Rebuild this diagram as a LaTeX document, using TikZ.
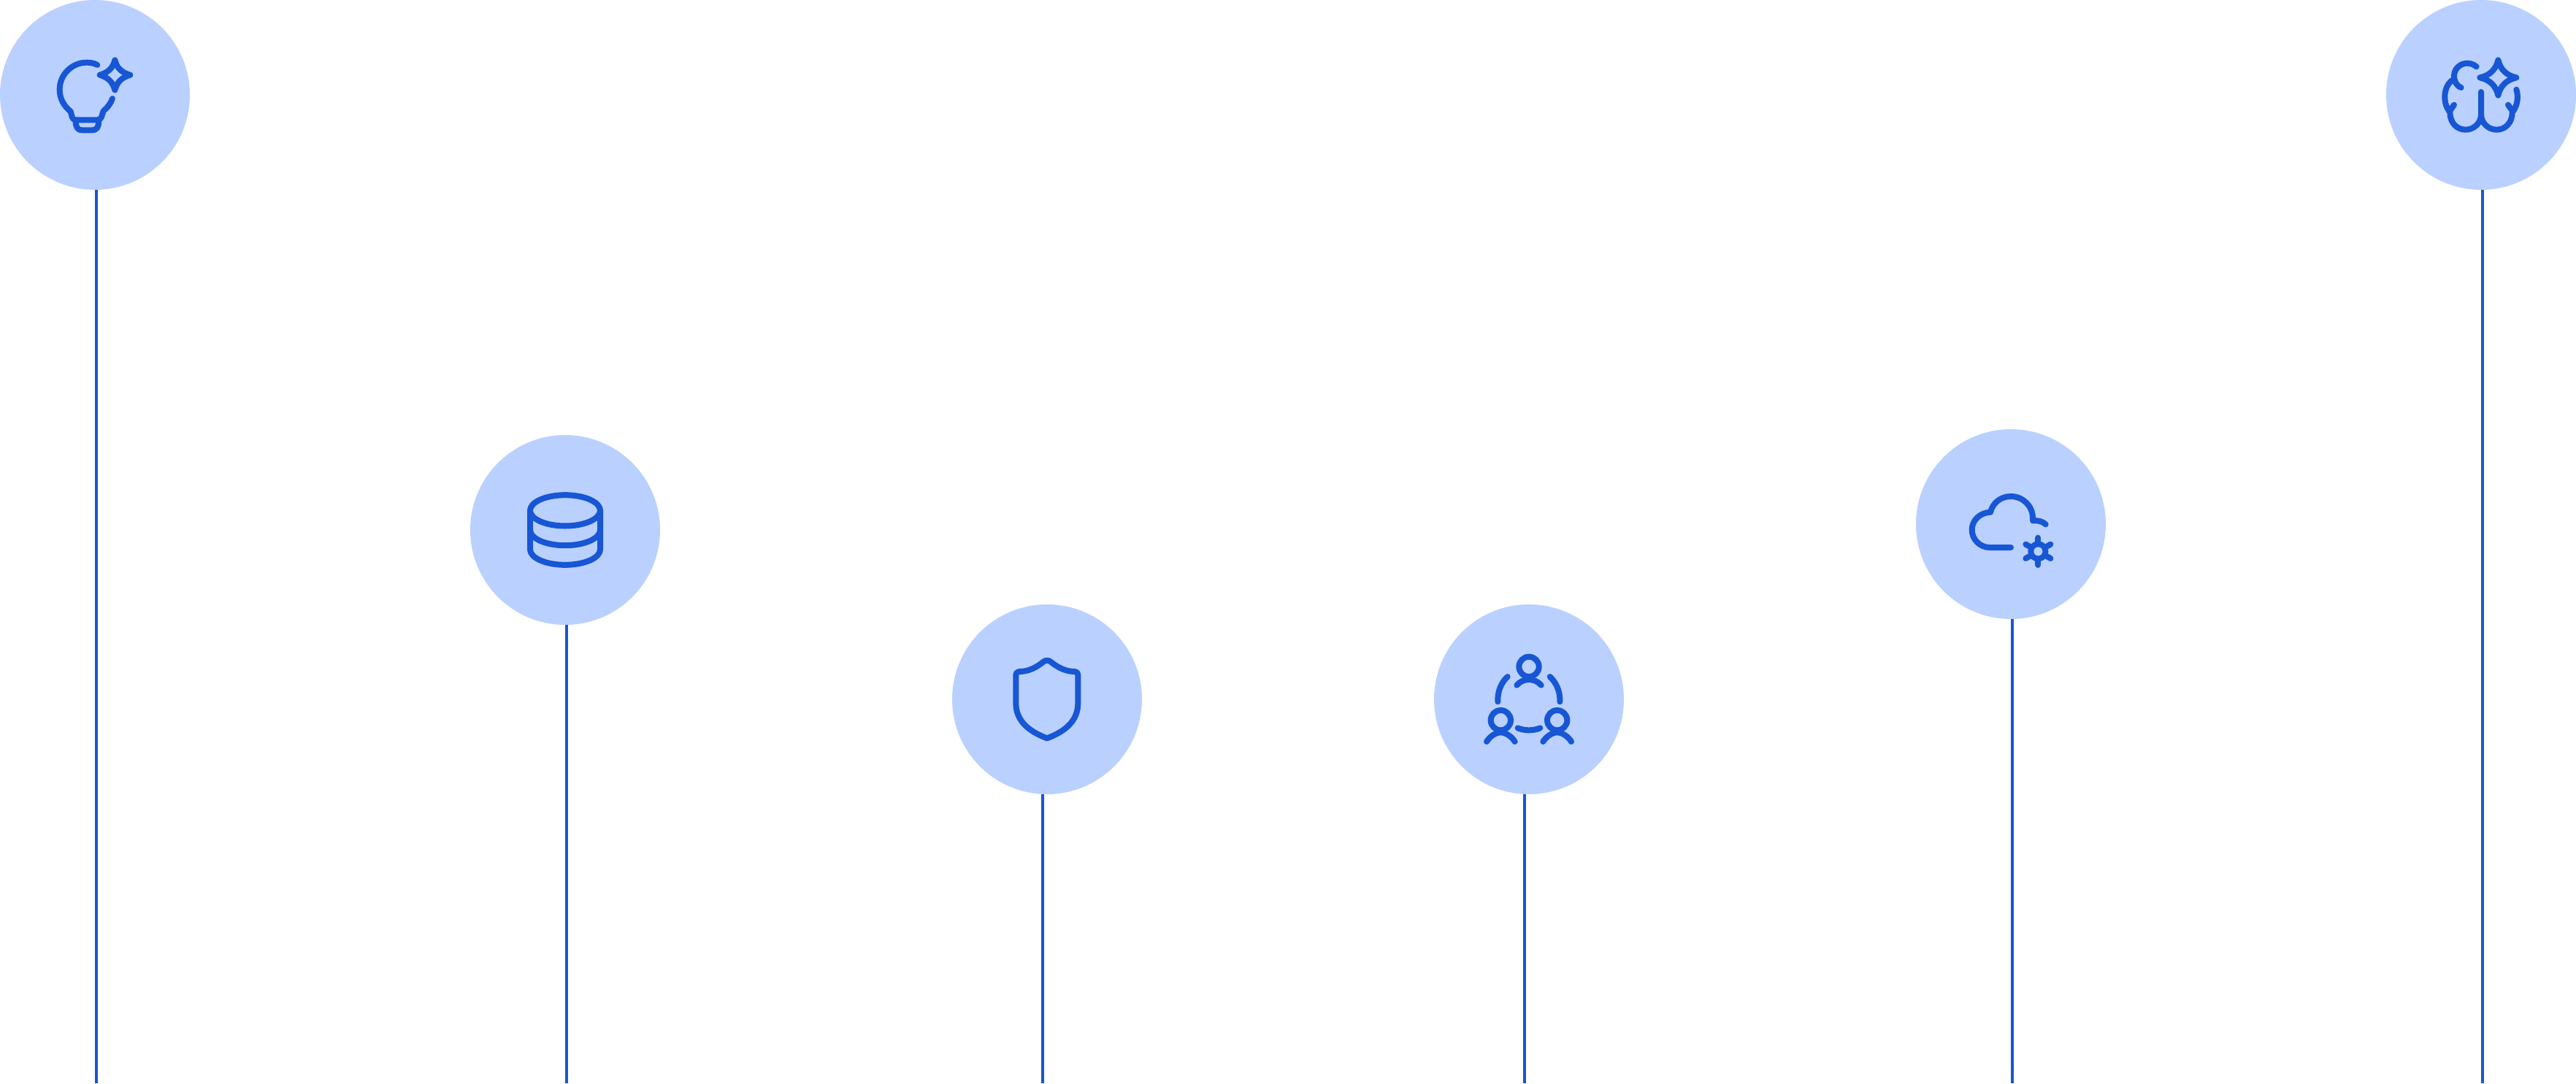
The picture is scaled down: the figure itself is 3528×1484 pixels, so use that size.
\documentclass[tikz,border=0pt]{standalone}
\definecolor{disc}{HTML}{BAD1FF}
\definecolor{ink}{HTML}{1756D4}
\tikzset{
  hub/.style={circle,fill=disc,draw=none,inner sep=0pt,outer sep=0pt,minimum size=260pt},
  stem/.style={draw=ink,line width=4pt},
  glyph/.style={draw=ink,line width=8pt,line cap=round,line join=round,fill=none},
  zoomframe/.style={shift={(#1)},x=0.33333pt,y=-0.33333pt}
}
\begin{document}
\begin{tikzpicture}[x=1pt,y=-1pt]
\useasboundingbox (0,0) rectangle (3528,1484);
% connectors first
\node[hub] (h1) at (130,130) {};
\node[hub] (h2) at (774,726) {};
\node[hub] (h3) at (1434,958) {};
\node[hub] (h4) at (2094,958) {};
\node[hub] (h5) at (2754,718) {};
\node[hub] (h6) at (3398,130) {};
\coordinate (e1) at (132,1484);
\coordinate (e2) at (776,1484);
\coordinate (e3) at (1428,1484);
\coordinate (e4) at (2088,1484);
\coordinate (e5) at (2756,1484);
\coordinate (e6) at (3400,1484);
\foreach \i in {1,...,6} \draw[stem] (h\i.south -| e\i) -- (e\i);
% bulb
\begin{scope}[zoomframe={0,0}]
\draw[glyph] (400,267) .. controls (386,259) and (370,257) .. (356,257)
  .. controls (295,257) and (245,307) .. (245,368)
  .. controls (245,405) and (262,435) .. (290,458)
  .. controls (295,470) and (293,493) .. (312,493) -- (400,493)
  .. controls (420,493) and (418,470) .. (425,456)
  .. controls (442,442) and (455,425) .. (462,405);
\draw[glyph] (311,495) .. controls (311,522) and (316,535) .. (340,535)
  -- (376,535) .. controls (400,535) and (405,522) .. (406,495);
\draw[glyph] (472,247) .. controls (480,280) and (500,298) .. (535,308)
  .. controls (500,318) and (480,338) .. (472,370)
  .. controls (464,338) and (444,318) .. (410,308)
  .. controls (444,298) and (464,280) .. (472,247) -- cycle;
\end{scope}
% database
\begin{scope}[zoomframe={640,595}]
\draw[glyph] (402,313) ellipse [x radius=144,y radius=63.5];
\draw[glyph] (258,393) .. controls (258,428) and (322,456.5) .. (402,456.5) .. controls (482,456.5) and (546,428) .. (546,393);
\draw[glyph] (258,313) -- (258,473) .. controls (258,508) and (322,536.5) .. (402,536.5) .. controls (482,536.5) and (546,508) .. (546,473) -- (546,313);
\end{scope}
% shield
\begin{scope}[zoomframe={1290,870}]
\draw[glyph] (418,109) .. controls (425,103) and (439,103) .. (446,109)
  .. controls (478,135) and (510,150) .. (546,150)
  .. controls (554,150) and (559,156) .. (559,163) -- (559,280)
  .. controls (559,350) and (510,395) .. (432,424)
  .. controls (354,395) and (304,350) .. (304,280) -- (304,163)
  .. controls (304,156) and (310,150) .. (318,150)
  .. controls (354,150) and (386,135) .. (418,109) -- cycle;
\end{scope}
% team
\begin{scope}[zoomframe={1950,870}]
\draw[glyph] (432,130) circle [radius=41];
\draw[glyph] (316,350) circle [radius=41];
\draw[glyph] (548,350) circle [radius=41];
\draw[glyph] (382,206) .. controls (395,190) and (415,183) .. (432,183) .. controls (449,183) and (469,190) .. (482,206);
\draw[glyph] (258,438) .. controls (270,418) and (295,400) .. (316,400) .. controls (337,400) and (362,418) .. (374,438);
\draw[glyph] (490,438) .. controls (502,418) and (527,400) .. (548,400) .. controls (569,400) and (594,418) .. (606,438);
\draw[glyph] (344,171) .. controls (318,195) and (302,232) .. (304,274);
\draw[glyph] (518,171) .. controls (544,195) and (561,232) .. (559,274);
\draw[glyph] (386,382) .. controls (415,394) and (449,394) .. (478,382);
\end{scope}
% cloud + gear
\begin{scope}[zoomframe={2610,585}]
\draw[glyph] (432,495) -- (345,495) .. controls (305,495) and (272,462) .. (272,422)
  .. controls (272,385) and (303,352) .. (348,350)
  .. controls (358,310) and (392,285) .. (432,285)
  .. controls (482,285) and (522,325) .. (522,375) -- (522,385)
  .. controls (545,383) and (562,388) .. (575,400);
\draw[glyph] (544,511) circle [radius=30];
\foreach \a/\b in {544/455,544/567,595/482,595/540,493/482,493/540}
  \draw[glyph] (\a,\b) -- (544,511);
\fill[disc] (544,511) circle [radius=18];
\end{scope}
% brain + sparkle
\begin{scope}[zoomframe={3250,0}]
\draw[glyph] (425,274) .. controls (412,264) and (400,260) .. (388,260)
  .. controls (355,260) and (333,285) .. (333,312) .. controls (333,335) and (345,355) .. (362,360);
\draw[glyph] (325,330) .. controls (305,345) and (295,370) .. (295,398)
  .. controls (295,425) and (303,445) .. (316,462)
  .. controls (316,505) and (345,533) .. (380,533)
  .. controls (415,533) and (444,505) .. (444,470) -- (444,378);
\draw[glyph] (444,470) .. controls (444,505) and (473,533) .. (508,533)
  .. controls (543,533) and (572,505) .. (572,462)
  .. controls (590,440) and (600,405) .. (589,368);
\draw[glyph] (333,431) -- (316,455);
\draw[glyph] (555,431) -- (572,455);
\draw[glyph] (514,247) .. controls (523,285) and (548,310) .. (589,319)
  .. controls (548,328) and (523,353) .. (514,392)
  .. controls (505,353) and (480,328) .. (439,319)
  .. controls (480,310) and (505,285) .. (514,247) -- cycle;
\end{scope}
\end{tikzpicture}
\end{document}
